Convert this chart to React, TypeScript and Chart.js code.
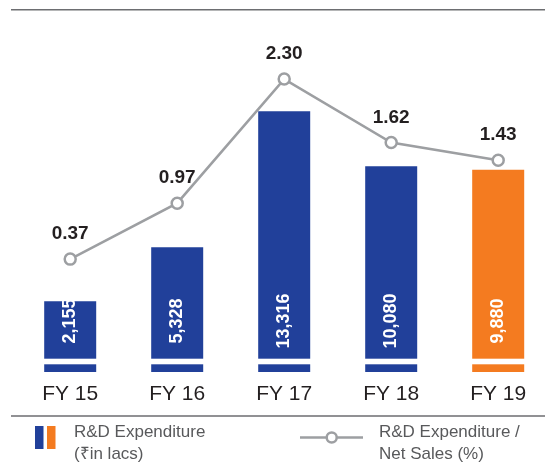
import React, { useEffect, useRef } from "react";
import { Chart, registerables } from "chart.js";

Chart.register(...registerables);

const FONT = '"Liberation Sans", Arial, Helvetica, sans-serif';

const categories = ["FY 15", "FY 16", "FY 17", "FY 18", "FY 19"];
const rdExpenditure = [2155, 5328, 13316, 10080, 9880];
const rdExpenditureLabels = ["2,155", "5,328", "13,316", "10,080", "9,880"];
const rdToSales = [0.37, 0.97, 2.3, 1.62, 1.43];
const rdToSalesLabels = ["0.37", "0.97", "2.30", "1.62", "1.43"];
const barColors = ["#21409A", "#21409A", "#21409A", "#21409A", "#F47B20"];
const legendBarText = ["R&D Expenditure", "(₹in lacs)"];
const legendLineText = ["R&D Expenditure /", "Net Sales (%)"];

const LINE_GREY = "#9D9FA2";
const TEXT_DARK = "#231F20";
const TEXT_GREY = "#58595B";
const RULE = "#6D6E71";

const decor = {
  id: "decor",
  afterDatasetDraw(chart: any, args: any) {
    if (args.index !== 1) return;
    const { ctx, chartArea } = chart;
    ctx.save();
    ctx.fillStyle = "#ffffff";
    ctx.fillRect(0, chartArea.bottom - 13.3, chart.width, 5.6);
    ctx.restore();
  },
  afterDatasetsDraw(chart: any) {
    const { ctx, chartArea } = chart;
    ctx.save();
    const barMeta = chart.getDatasetMeta(1);
    ctx.fillStyle = "#ffffff";
    ctx.font = `bold 18px ${FONT}`;
    ctx.textAlign = "center";
    ctx.textBaseline = "middle";
    barMeta.data.forEach((el: any, i: number) => {
      ctx.save();
      ctx.translate(el.x, chartArea.bottom - 51);
      ctx.rotate(-Math.PI / 2);
      ctx.fillText(rdExpenditureLabels[i], 0, 0);
      ctx.restore();
    });
    const lineMeta = chart.getDatasetMeta(0);
    ctx.fillStyle = TEXT_DARK;
    ctx.font = `bold 19px ${FONT}`;
    ctx.textBaseline = "alphabetic";
    lineMeta.data.forEach((el: any, i: number) => {
      ctx.fillText(rdToSalesLabels[i], el.x, el.y - 20);
    });
    ctx.restore();
  },
  afterDraw(chart: any) {
    const { ctx, width } = chart;
    ctx.save();
    ctx.strokeStyle = RULE;
    ctx.lineWidth = 1.5;
    ctx.beginPath();
    ctx.moveTo(11, 9.75);
    ctx.lineTo(width, 9.75);
    ctx.moveTo(11, 416);
    ctx.lineTo(width, 416);
    ctx.stroke();

    ctx.fillStyle = barColors[0];
    ctx.fillRect(35, 426, 8.5, 23);
    ctx.fillStyle = barColors[4];
    ctx.fillRect(47, 426, 8.5, 23);

    ctx.fillStyle = TEXT_GREY;
    ctx.font = `17px ${FONT}`;
    ctx.textAlign = "left";
    ctx.textBaseline = "alphabetic";
    ctx.fillText(legendBarText[0], 74, 437);
    ctx.fillText(legendBarText[1], 74, 458.5);

    ctx.strokeStyle = LINE_GREY;
    ctx.lineWidth = 2.5;
    ctx.beginPath();
    ctx.moveTo(300, 437.5);
    ctx.lineTo(363, 437.5);
    ctx.stroke();
    ctx.beginPath();
    ctx.arc(331.7, 437.5, 5, 0, Math.PI * 2);
    ctx.fillStyle = "#ffffff";
    ctx.fill();
    ctx.stroke();

    ctx.fillStyle = TEXT_GREY;
    ctx.fillText(legendLineText[0], 379, 437);
    ctx.fillText(legendLineText[1], 379, 458.5);
    ctx.restore();
  },
};

export default function App() {
  const canvasRef = useRef<HTMLCanvasElement | null>(null);

  useEffect(() => {
    const canvas = canvasRef.current;
    if (!canvas) return;
    const chart = new Chart(canvas, {
      type: "bar",
      data: {
        labels: categories,
        datasets: [
          {
            type: "line",
            label: "R&D Expenditure / Net Sales (%)",
            data: rdToSales,
            yAxisID: "y2",
            borderColor: LINE_GREY,
            borderWidth: 2.5,
            pointRadius: 5.5,
            pointBorderWidth: 2.5,
            pointBackgroundColor: "#ffffff",
            pointBorderColor: LINE_GREY,
            tension: 0,
            clip: false,
            order: 1,
          } as any,
          {
            type: "bar",
            label: "R&D Expenditure (₹in lacs)",
            data: rdExpenditure,
            yAxisID: "y",
            backgroundColor: barColors,
            base: -2000,
            barPercentage: 0.486,
            categoryPercentage: 1,
            clip: false,
            order: 2,
          } as any,
        ],
      },
      options: {
        responsive: false,
        animation: false,
        devicePixelRatio: 1,
        layout: { padding: { left: 70.2, right: 46.8, top: 31.5, bottom: 54.8 } },
        plugins: { legend: { display: false }, tooltip: { enabled: false } },
        scales: {
          x: {
            offset: false,
            grid: { display: false },
            border: { display: false },
            ticks: {
              color: TEXT_DARK,
              font: { family: FONT, size: 21 },
              padding: 2,
              maxRotation: 0,
              autoSkip: false,
            },
          },
          y: { display: false, min: -2000, max: 18000 },
          y2: { display: false, min: -0.84, max: 2.81 },
        },
      } as any,
      plugins: [decor],
    });
    return () => chart.destroy();
  }, []);

  return (
    <div style={{ position: "absolute", left: 0, top: 0, width: 545, height: 464, background: "#fff" }}>
      <canvas ref={canvasRef} width={545} height={464} style={{ display: "block" }} />
    </div>
  );
}
